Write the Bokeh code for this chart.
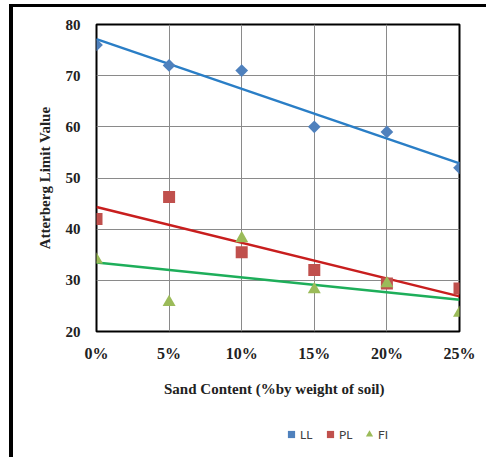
import numpy as np
from bokeh.plotting import figure
from bokeh.layouts import row, column
from bokeh.models import Legend, LegendItem, FixedTicker, Div
from bokeh.embed import file_html
from bokeh.resources import INLINE

sand = [0, 5, 10, 15, 20, 25]
x_labels = ["0%", "5%", "10%", "15%", "20%", "25%"]
ll = [76, 72, 71, 60, 59, 52]
pl = [42, 46.3, 35.5, 32, 29.4, 28.4]
fi = [34, 25.7, 38.2, 28.2, 29.4, 23.6]
y_ticks = [20, 30, 40, 50, 60, 70, 80]
series_names = ["LL", "PL", "FI"]

W = 473
p = figure(width=W, height=400, x_range=(0, 25), y_range=(20, 80),
           output_backend="svg", toolbar_location=None,
           min_border_left=83, min_border_right=27, min_border_top=17, min_border_bottom=76)

p.outline_line_color = "black"
p.outline_line_width = 2
p.background_fill_color = "white"
p.border_fill_color = "white"

p.xaxis.ticker = FixedTicker(ticks=sand)
p.xaxis.major_label_overrides = {v: l for v, l in zip(sand, x_labels)}
p.yaxis.ticker = FixedTicker(ticks=y_ticks)
p.xgrid.ticker = FixedTicker(ticks=sand)
p.ygrid.ticker = FixedTicker(ticks=y_ticks)
for g in (p.xgrid, p.ygrid):
    g.grid_line_color = "#8a8a8a"
    g.grid_line_width = 1

for ax in (p.xaxis, p.yaxis):
    ax.axis_line_color = None
    ax.major_tick_line_color = None
    ax.minor_tick_line_color = None
    ax.major_tick_out = 0
    ax.major_tick_in = 0
    ax.minor_tick_out = 0
    ax.minor_tick_in = 0
    ax.major_label_text_font = "Liberation Serif"
    ax.major_label_text_font_style = "bold"
    ax.major_label_text_color = "#222222"
    ax.axis_label_text_font = "Liberation Serif"
    ax.axis_label_text_font_style = "bold"
    ax.axis_label_text_color = "#222222"

p.xaxis.major_label_text_font_size = "16px"
p.yaxis.major_label_text_font_size = "15px"
p.xaxis.major_label_standoff = 13
p.yaxis.major_label_standoff = 16
p.xaxis.axis_label = "Sand Content  (%by  weight of soil)"
p.yaxis.axis_label = "Atterberg Limit Value"
p.xaxis.axis_label_text_font_size = "15px"
p.yaxis.axis_label_text_font_size = "15px"
p.xaxis.axis_label_standoff = 16
p.yaxis.axis_label_standoff = 10

colors = ["#4F81BD", "#C0504D", "#9BBB59"]
line_colors = ["#2A7EC6", "#C81E1E", "#1EAE5A"]
data = [ll, pl, fi]

xs = np.array([sand[0], sand[-1]], dtype=float)
for vals, lc in zip(data, line_colors):
    k, b = np.polyfit(sand, vals, 1)
    p.line(xs, k * xs + b, line_color=lc, line_width=2.5)

p.scatter(sand, ll, marker="square", angle=np.pi / 4, size=9, fill_color=colors[0], line_color=None)
p.scatter(sand, pl, marker="square", size=12, fill_color=colors[1], line_color=None)
p.scatter(sand, fi, marker="triangle", size=13, fill_color=colors[2], line_color=None)

# legend strip: a bare figure whose own renderers (same series, outside its view) feed the legend
p2 = figure(width=W, height=47, x_range=(0, 25), y_range=(200, 210),
            output_backend="svg", toolbar_location=None,
            min_border_left=0, min_border_right=0, min_border_top=0, min_border_bottom=0)
p2.axis.visible = False
p2.grid.visible = False
p2.outline_line_color = None
p2.border_fill_color = "white"
l_ll = p2.scatter(sand, ll, marker="square", angle=np.pi / 4, size=7, fill_color=colors[0], line_color=None)
l_pl = p2.scatter(sand, pl, marker="square", size=9, fill_color=colors[1], line_color=None)
l_fi = p2.scatter(sand, fi, marker="triangle", size=10, fill_color=colors[2], line_color=None)

legend = Legend(items=[LegendItem(label=n, renderers=[r]) for n, r in zip(series_names, [l_ll, l_pl, l_fi])],
                orientation="horizontal", location=(186, 11),
                glyph_width=18, glyph_height=18, label_height=18, label_standoff=0, spacing=1,
                padding=0, margin=0, border_line_color=None, background_fill_alpha=0,
                label_text_font="Lato", label_text_font_size="12px", label_text_color="#404040")
p2.add_layout(legend, "center")

vline = Div(text="", width=4, height=453, margin=0, styles={"background-color": "black"})
hline = Div(text="", width=W, height=3, margin=0, styles={"background-color": "black"})
root = row(vline, column(hline, p, p2, spacing=0), spacing=0)
root.margin = (4, 0, 0, 9)

open("out.html", "w").write(file_html(root, INLINE))
